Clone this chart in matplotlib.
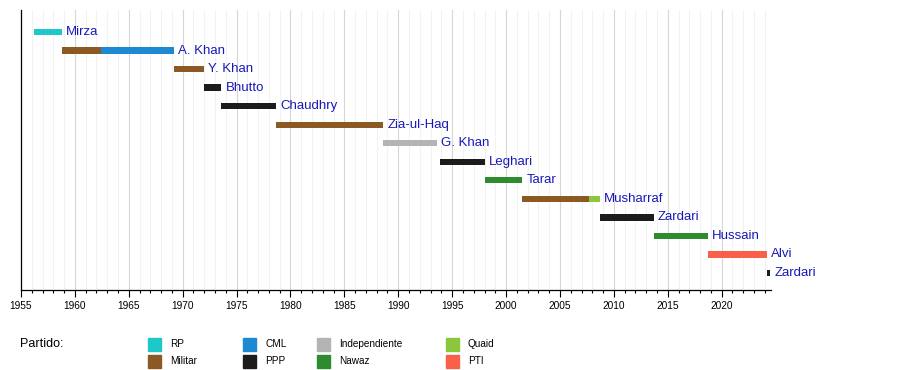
import matplotlib
matplotlib.use("Agg")
import matplotlib.pyplot as plt
from matplotlib.patches import Rectangle
from matplotlib.ticker import MultipleLocator

plt.rcParams['font.family'] = ['Liberation Sans', 'DejaVu Sans']

# presidents, one row each; a row may hold several party segments
names = ["Mirza", "A. Khan", "Y. Khan", "Bhutto", "Chaudhry", "Zia-ul-Haq", "G. Khan",
         "Leghari", "Tarar", "Musharraf", "Zardari", "Hussain", "Alvi", "Zardari"]
seg_row = [0, 1, 1, 2, 3, 4, 5, 6, 7, 8, 9, 9, 10, 11, 12, 13]
seg_start = [1956.2, 1958.8, 1962.4, 1969.2, 1971.97, 1973.6, 1978.7, 1988.6,
             1993.9, 1998.05, 2001.5, 2007.65, 2008.7, 2013.7, 2018.7, 2024.2]
seg_end = [1958.8, 1962.4, 1969.2, 1971.97, 1973.6, 1978.7, 1988.6, 1993.6,
           1998.05, 2001.5, 2007.65, 2008.7, 2013.7, 2018.7, 2024.2, 2024.5]
seg_party = ["RP", "Militar", "CML", "Militar", "PPP", "PPP", "Militar", "Independiente",
             "PPP", "Nawaz", "Militar", "Quaid", "PPP", "Nawaz", "PTI", "PPP"]

parties = ["RP", "Militar", "CML", "PPP", "Independiente", "Nawaz", "Quaid", "PTI"]
party_colors = {"RP": "#1ec8c8", "Militar": "#8b5a24", "CML": "#1e88d2", "PPP": "#1c1c1c",
                "Independiente": "#b4b4b4", "Nawaz": "#2e8b2e", "Quaid": "#8cc63c",
                "PTI": "#f8604a"}

W, H = 900, 370
fig = plt.figure(figsize=(9, 3.7), dpi=100)
ax = fig.add_axes([21 / W, 1 - 290 / H, 749.7 / W, 280 / H])

# bars
for r, s, e, p in zip(seg_row, seg_start, seg_end, seg_party):
    ax.barh(r, e - s, left=s, height=0.34, color=party_colors[p], zorder=3)

# name labels after the last segment of each row
for i, n in enumerate(names):
    end = max(e for r, e in zip(seg_row, seg_end) if r == i)
    ax.annotate(n, (end, i), xytext=(3, 0), textcoords="offset points",
                va="center", ha="left", fontsize=9.5, color="#1818b8", zorder=4)

row_px = 18.54
ax.set_ylim((290 - 32) / row_px, -(32 - 10) / row_px)
ax.set_xlim(1955, 2024.55)

ax.xaxis.set_major_locator(MultipleLocator(5))
ax.xaxis.set_minor_locator(MultipleLocator(1))
ax.grid(axis="x", which="major", color="#d6d6d6", lw=0.8, zorder=0)
ax.grid(axis="x", which="minor", color="#f2f2f2", lw=0.8, zorder=0)
ax.tick_params(axis="x", which="major", length=5, width=0.8, labelsize=7.3, pad=3)
ax.tick_params(axis="x", which="minor", length=2.5, width=0.8)
ax.set_yticks([])
for s in ["top", "right"]:
    ax.spines[s].set_visible(False)
ax.spines["left"].set_linewidth(0.9)
ax.spines["bottom"].set_linewidth(0.9)

# legend
fig.text(20 / W, 1 - 344 / H, "Partido:", fontsize=9, va="center", ha="left")
col_sw = [148, 243, 317, 446]
row_y = [344, 361]
for k, p in enumerate(parties):
    c, r = divmod(k, 2)
    x0, yc = col_sw[c], row_y[r]
    fig.add_artist(Rectangle((x0 / W, 1 - (yc + 6.5) / H), 13 / W, 13 / H,
                             transform=fig.transFigure, color=party_colors[p]))
    fig.text((x0 + 22) / W, 1 - yc / H, p, fontsize=7.2, va="center", ha="left")

fig.savefig("out.png", dpi=100)
